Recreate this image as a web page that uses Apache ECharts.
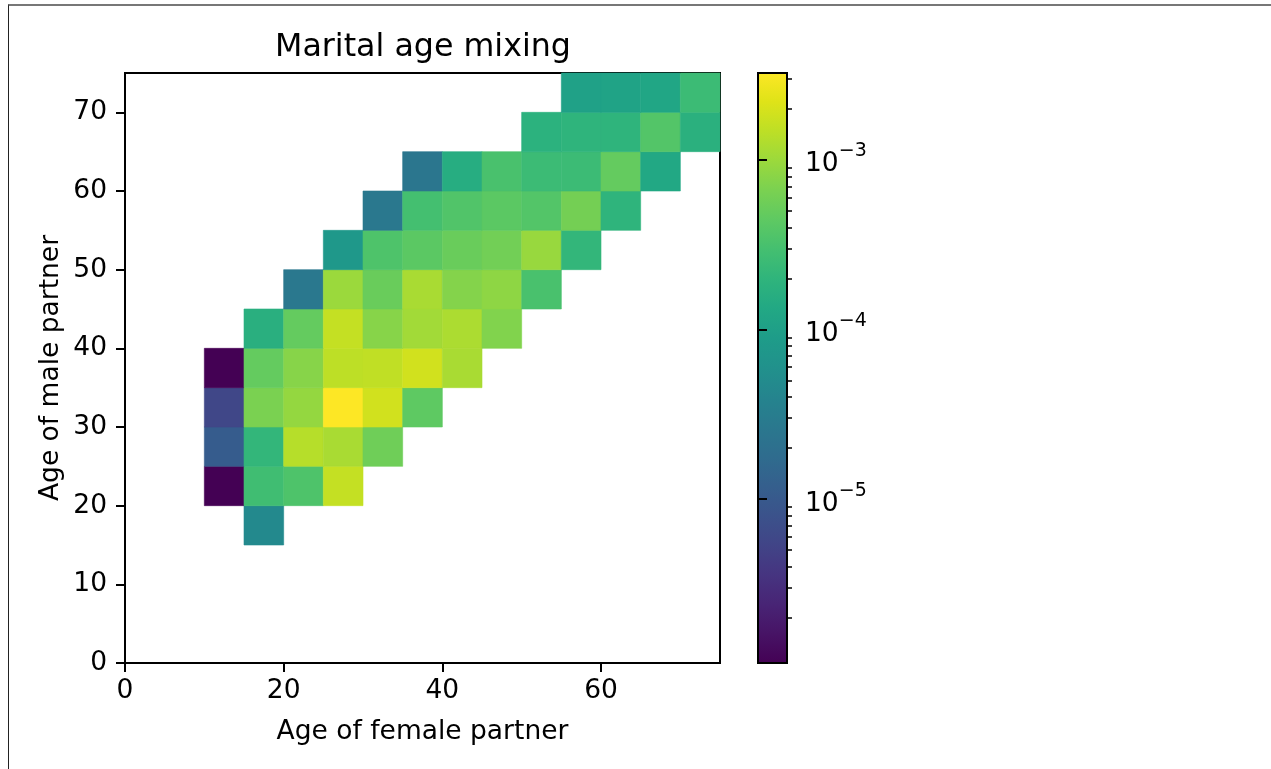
<!DOCTYPE html>
<html>
<head>
<meta charset="utf-8">
<script src="https://cdn.jsdelivr.net/npm/echarts@6/dist/echarts.min.js"></script>
<style>
  html, body { margin: 0; padding: 0; background: #fff; }
  #chart { position: absolute; left: 0; top: 0; width: 1271px; height: 769px; }
  #frame { position: absolute; left: 8px; top: 4px; right: 0; bottom: 0;
           border-top: 2px solid #777; border-left: 1px solid #222; pointer-events: none; }
</style>
</head>
<body>
<div id="chart"></div>
<div id="frame"></div>
<script>
// ---- data: marital age mixing rates, 5-year bins (bin start ages) ----
const binSize = 5;
const maleAges = [15, 20, 25, 30, 35, 40, 45, 50, 55, 60, 65, 70];
const firstFemaleAge = [15, 10, 10, 10, 10, 15, 20, 25, 30, 35, 50, 55];
const rateMale15 = [4.67e-5];
const rateMale20 = [1.08e-6, 2.72e-4, 3.46e-4, 1.58e-3];
const rateMale25 = [1.10e-5, 2.14e-4, 1.35e-3, 1.15e-3, 5.59e-4];
const rateMale30 = [5.8e-6, 6.56e-4, 9.04e-4, 3.26e-3, 1.86e-3, 4.40e-4];
const rateMale35 = [1.08e-6, 4.76e-4, 7.70e-4, 1.46e-3, 1.52e-3, 1.86e-3, 1.15e-3];
const rateMale40 = [1.68e-4, 4.76e-4, 1.58e-3, 7.70e-4, 1.06e-3, 1.20e-3, 7.11e-4];
const rateMale45 = [2.66e-5, 9.79e-4, 5.16e-4, 1.15e-3, 7.40e-4, 8.34e-4, 3.19e-4];
const rateMale50 = [7.54e-5, 3.46e-4, 4.22e-4, 5.16e-4, 5.82e-4, 9.41e-4, 2.14e-4];
const rateMale55 = [2.66e-5, 2.94e-4, 3.60e-4, 4.22e-4, 3.74e-4, 6.06e-4, 1.97e-4];
const rateMale60 = [2.45e-5, 1.55e-4, 3.19e-4, 2.51e-4, 2.51e-4, 4.76e-4, 1.32e-4];
const rateMale65 = [1.82e-4, 1.97e-4, 1.97e-4, 3.74e-4, 1.75e-4];
const rateMale70 = [1.04e-4, 1.12e-4, 1.22e-4, 2.51e-4];
const rateRows = [rateMale15, rateMale20, rateMale25, rateMale30, rateMale35, rateMale40,
                  rateMale45, rateMale50, rateMale55, rateMale60, rateMale65, rateMale70];

const xTicks = [0, 20, 40, 60];
const yTicks = [0, 10, 20, 30, 40, 50, 60, 70];
const colorbarMin = 1.08e-6;
const colorbarMax = 3.26e-3;
const colorbarDecades = [-5, -4, -3];

const viridis = ['#440154','#471365','#482475','#463480','#414487','#3b528b','#355f8d',
  '#2f6c8e','#2a788e','#25848e','#21918c','#1e9c89','#22a884','#2fb47c','#44bf70',
  '#5ec962','#7ad151','#9bd93c','#bddf26','#dfe318','#fde725'];

// ---- build ----
const cells = [];
maleAges.forEach((m, r) => {
  rateRows[r].forEach((v, k) => {
    cells.push([firstFemaleAge[r] + k * binSize, m, Math.log10(v)]);
  });
});
const LMIN = Math.log10(colorbarMin), LMAX = Math.log10(colorbarMax);
const minorTicks = [];
for (let e = -6; e <= -3; e++) {
  for (let k = 2; k <= 9; k++) {
    const l = Math.log10(k) + e;
    if (l > LMIN && l < LMAX) minorTicks.push(l);
  }
}
const FONT = 'DejaVu Sans';
const FS = 26.5;
const chart = echarts.init(document.getElementById('chart'), null, { renderer: 'canvas' });
const gradient = new echarts.graphic.LinearGradient(0, 1, 0, 0,
  viridis.map((c, i) => ({ offset: i / (viridis.length - 1), color: c })));

chart.setOption({
  animation: false,
  backgroundColor: '#fff',
  title: {
    text: 'Marital age mixing', left: 418, top: 27, textAlign: 'center',
    textStyle: { fontFamily: FONT, fontSize: 31.7, fontWeight: 'normal', color: '#000' }
  },
  grid: [
    { left: 125, top: 73, width: 595, height: 590, show: true, borderColor: '#000', borderWidth: 2, backgroundColor: 'transparent' },
    { left: 758, top: 73, width: 29, height: 590, show: true, borderColor: '#000', borderWidth: 2, backgroundColor: gradient }
  ],
  visualMap: {
    show: false, type: 'continuous', dimension: 2, seriesIndex: 0,
    min: LMIN, max: LMAX, inRange: { color: viridis }
  },
  xAxis: [
    {
      gridIndex: 0, type: 'value', min: 0, max: 75,
      name: 'Age of female partner', nameLocation: 'middle', nameGap: 56,
      nameTextStyle: { fontFamily: FONT, fontSize: FS, color: '#000' },
      axisLine: { show: true, lineStyle: { color: '#000', width: 2 } },
      axisTick: { show: true, customValues: xTicks, length: 9, lineStyle: { color: '#000', width: 2 } },
      axisLabel: { customValues: xTicks, fontFamily: FONT, fontSize: FS, color: '#000', margin: 15 },
      splitLine: { show: false }
    },
    { gridIndex: 1, type: 'value', show: false, min: 0, max: 1 }
  ],
  yAxis: [
    {
      gridIndex: 0, type: 'value', min: 0, max: 75,
      name: 'Age of male partner', nameLocation: 'middle', nameGap: 60, nameRotate: 90,
      nameTextStyle: { fontFamily: FONT, fontSize: FS, color: '#000' },
      axisLine: { show: true, lineStyle: { color: '#000', width: 2 } },
      axisTick: { show: true, customValues: yTicks, length: 9, lineStyle: { color: '#000', width: 2 } },
      axisLabel: { customValues: yTicks, fontFamily: FONT, fontSize: FS, color: '#000', margin: 18 },
      splitLine: { show: false }
    },
    {
      gridIndex: 1, type: 'value', min: LMIN, max: LMAX, position: 'right',
      axisLine: { show: false },
      axisTick: { show: true, customValues: colorbarDecades, length: 9, lineStyle: { color: '#000', width: 2 } },
      axisLabel: {
        customValues: colorbarDecades, margin: 18, color: '#000',
        formatter: v => '{b|10}{s|\u2212' + Math.abs(Math.round(v)) + '}',
        rich: {
          b: { fontFamily: FONT, fontSize: FS, color: '#000', lineHeight: 36, verticalAlign: 'bottom' },
          s: { fontFamily: FONT, fontSize: 19, color: '#000', lineHeight: 36, verticalAlign: 'top' }
        }
      },
      splitLine: { show: false }
    },
    {
      gridIndex: 1, type: 'value', min: LMIN, max: LMAX, position: 'right',
      axisLine: { show: false },
      axisTick: { show: true, customValues: minorTicks, length: 5, lineStyle: { color: '#000', width: 1.5 } },
      axisLabel: { show: false },
      splitLine: { show: false }
    }
  ],
  series: [{
    type: 'custom', coordinateSystem: 'cartesian2d', xAxisIndex: 0, yAxisIndex: 0,
    encode: { x: 0, y: 1 },
    data: cells,
    renderItem: function (params, api) {
      const x = api.value(0), y = api.value(1);
      const p0 = api.coord([x, y + binSize]);
      const p1 = api.coord([x + binSize, y]);
      const c = api.visual('color');
      return {
        type: 'rect',
        shape: { x: p0[0], y: p0[1], width: p1[0] - p0[0], height: p1[1] - p0[1] },
        style: { fill: c, stroke: c, lineWidth: 0.6 }
      };
    }
  }]
});
</script>
</body>
</html>
